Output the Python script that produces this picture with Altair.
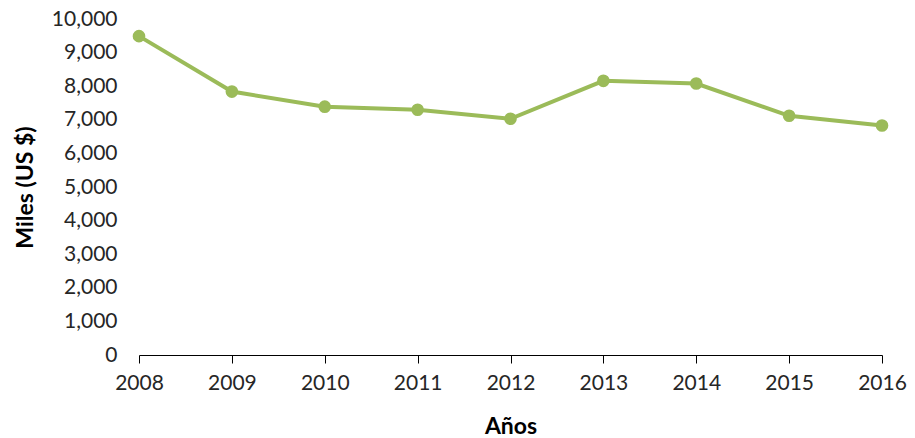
import altair as alt
import pandas as pd

# Annual amounts, thousands of US dollars
years = [2008, 2009, 2010, 2011, 2012, 2013, 2014, 2015, 2016]
amounts = [9490, 7840, 7390, 7300, 7030, 8160, 8080, 7120, 6830]

df = pd.DataFrame({"year": years, "amount": amounts})

GREEN = "#9BBB59"
FONT = "Lato"

x = alt.X(
    "year:Q",
    scale=alt.Scale(domain=[2008, 2016], nice=False, zero=False),
    axis=alt.Axis(
        title="Años",
        values=years,
        format="d",
        grid=False,
        labelFlush=False,
        domainColor="#000000",
        tickColor="#000000",
        tickSize=8,
        labelPadding=9,
        labelFontSize=21,
        labelColor="#262626",
        labelFont=FONT,
        titleFont=FONT,
        titleFontSize=23,
        titleFontWeight="bold",
        titleColor="#000000",
        titlePadding=22,
    ),
)
y = alt.Y(
    "amount:Q",
    scale=alt.Scale(domain=[0, 10000], nice=False),
    axis=alt.Axis(
        title="Miles (US $)",
        values=list(range(0, 10001, 1000)),
        format=",d",
        grid=False,
        domain=False,
        ticks=False,
        labelPadding=22,
        labelFontSize=21,
        labelColor="#262626",
        labelFont=FONT,
        titleFont=FONT,
        titleFontSize=23,
        titleFontWeight="bold",
        titleColor="#000000",
        titlePadding=14,
    ),
)

line = alt.Chart(df).mark_line(color=GREEN, strokeWidth=4).encode(x=x, y=y)
points = alt.Chart(df).mark_point(
    filled=True, color=GREEN, size=160, opacity=1
).encode(x=x, y=y)

chart = (
    alt.layer(line, points)
    .properties(
        width=743,
        height=336,
        autosize=alt.AutoSizeParams(type="none"),
        padding={"left": 139, "top": 19, "right": 33, "bottom": 83},
        view=alt.ViewBackground(strokeWidth=0, stroke="transparent"),
    )
    .configure_view(strokeWidth=0, stroke="transparent")
    .configure(background="#ffffff")
)

chart.save("out.html", embed_options={"renderer": "svg", "actions": False})
